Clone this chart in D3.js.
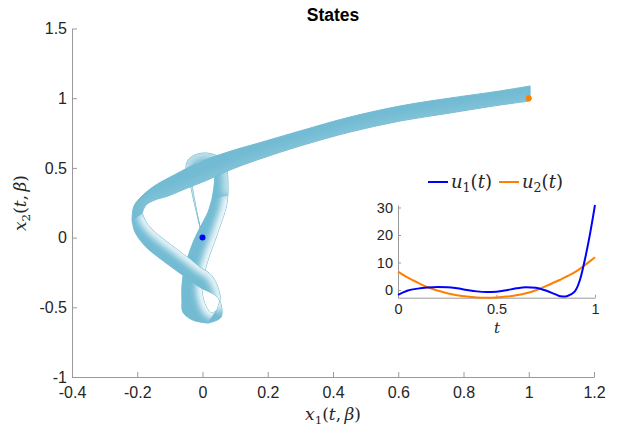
<!DOCTYPE html>
<html><head><meta charset="utf-8">
<script src="https://cdn.jsdelivr.net/npm/d3@7"></script>
<style>body{margin:0;background:#fff} svg{display:block}</style>
</head><body><svg id="c" width="623" height="431"></svg>
<script>
// Ensemble state trajectories: the two extreme members of the beta family
const x1_betaA = [0,-0.011,-0.026,-0.038,-0.051,-0.044,-0.023,0.008,0.038,0.063,0.075,0.078,0.078,0.072,0.057,0.041,0.023,0.008,-0.002,0.002,0.014,0.029,0.044,0.054,0.029,-0.008,-0.047,-0.100,-0.146,-0.173,-0.185,-0.173,-0.146,-0.106,-0.054,0.008,0.084,0.176,0.299,0.452,0.605,0.759,0.912,1.004];
const x2_betaA = [0,0.112,0.255,0.385,0.485,0.557,0.593,0.607,0.593,0.557,0.485,0.399,0.306,0.212,0.105,-0.003,-0.118,-0.232,-0.340,-0.433,-0.507,-0.542,-0.520,-0.426,-0.274,-0.212,-0.140,-0.046,0.040,0.112,0.177,0.234,0.270,0.298,0.349,0.406,0.485,0.564,0.657,0.757,0.836,0.894,0.951,0.980];
const x1_betaB = [0,-0.011,-0.023,-0.032,-0.032,-0.023,-0.008,0.014,0.029,0.038,0.038,0.035,0.029,0.017,-0.005,-0.026,-0.044,-0.057,-0.063,-0.063,-0.060,-0.029,0.017,0.057,0.048,-0.008,-0.069,-0.124,-0.176,-0.207,-0.216,-0.210,-0.182,-0.143,-0.087,-0.008,0.078,0.173,0.299,0.452,0.605,0.759,0.912,1.004];
const x2_betaB = [0,0.112,0.255,0.385,0.478,0.528,0.550,0.557,0.542,0.506,0.442,0.363,0.277,0.184,0.083,-0.017,-0.132,-0.240,-0.347,-0.448,-0.535,-0.592,-0.613,-0.570,-0.433,-0.356,-0.255,-0.161,-0.060,0.040,0.126,0.227,0.306,0.377,0.449,0.542,0.614,0.679,0.765,0.865,0.944,1.001,1.052,1.088];
const initialState = [0, 0];
const targetState = [1, 1];

// Controls (inset)
const tGrid = [0,0.05,0.1,0.15,0.2,0.25,0.3,0.35,0.4,0.45,0.5,0.55,0.6,0.65,0.7,0.75,0.8,0.825,0.85,0.875,0.9,0.925,0.95,0.975,1];
const u1 = [-1.8,-0.2,0.5,0.9,1.1,1.0,0.6,0.0,-0.5,-0.7,-0.6,-0.1,0.6,1.0,0.8,-0.2,-1.6,-2.3,-2.4,-1.7,-0.3,4.0,11.5,20.5,30.9];
const u2 = [6.7,4.5,2.7,1.0,-0.2,-1.2,-1.9,-2.4,-2.7,-2.8,-2.7,-2.4,-1.9,-1.2,-0.1,1.4,3.0,3.8,4.7,5.6,6.6,7.8,9.1,10.5,11.9];

const mainXTicks = [-0.4,-0.2,0,0.2,0.4,0.6,0.8,1,1.2];
const mainYTicks = [-1,-0.5,0,0.5,1,1.5];
const insetXTicks = [0,0.5,1];
const insetYTicks = [0,10,20,30];

const svg = d3.select("#c");
const axisCol = "#9a9a9a", textCol = "#262626";
const sans = "'Liberation Sans', Arial, Helvetica, sans-serif";
const serif = "'DejaVu Serif', 'Liberation Serif', serif";

const x = d3.scaleLinear().domain([-0.4, 1.2]).range([72, 594]);
const y = d3.scaleLinear().domain([-1, 1.5]).range([377, 28.5]);

// ---- ribbon ----
const defs = svg.append("defs");
defs.append("filter").attr("id", "soft").attr("filterUnits", "userSpaceOnUse")
  .attr("x", 0).attr("y", 0).attr("width", 623).attr("height", 431)
  .append("feGaussianBlur").attr("stdDeviation", 3);
const ribbonCol = "#72bbd3";
const smooth = d3.line().curve(d3.curveCatmullRom.alpha(0.5));
const ptA = i => [x(x1_betaA[i]), y(x2_betaA[i])];
const ptB = i => [x(x1_betaB[i]), y(x2_betaB[i])];
// [first index, last index, highlight opacity along the light edge]
const pieces = [[0, 12, 0.55], [12, 22, 0.92], [22, 30, 0.85], [30, 43, 0.1]];
const gRib = svg.append("g");
pieces.forEach(([s, e, op], k) => {
  const A = d3.range(s, e + 1).map(ptA);
  const B = d3.range(s, e + 1).map(ptB).reverse();
  const d = smooth(A) + smooth(B).replace(/^M/, "L") + "Z";
  gRib.append("path").attr("d", d).attr("fill", ribbonCol)
    .attr("stroke", ribbonCol).attr("stroke-width", 1).attr("stroke-linejoin", "round");
  const cid = "clipRib" + k;
  defs.append("clipPath").attr("id", cid).append("path").attr("d", d);
  gRib.append("g").attr("clip-path", `url(#${cid})`)
    .append("path").attr("d", smooth(A)).attr("fill", "none")
    .attr("stroke", "#ffffff").attr("stroke-opacity", op).attr("stroke-width", 11)
    .attr("filter", "url(#soft)");
});

// points
svg.append("circle").attr("cx", x(initialState[0])).attr("cy", y(initialState[1])).attr("r", 3).attr("fill", "#0000ff");
svg.append("circle").attr("cx", x(targetState[0])).attr("cy", y(targetState[1])).attr("r", 3).attr("fill", "#ff8000");

// ---- main axes ----
function styleAxis(g, fs) {
  g.select(".domain").attr("stroke", axisCol);
  g.selectAll(".tick line").attr("stroke", axisCol);
  g.selectAll(".tick text").attr("fill", textCol).attr("font-family", sans).attr("font-size", fs);
}
svg.append("g").attr("transform", "translate(0,377)")
  .call(d3.axisBottom(x).tickValues(mainXTicks).tickFormat(d => String(d)).tickSizeInner(-5).tickSizeOuter(0).tickPadding(10))
  .call(g => styleAxis(g, 16));
svg.append("g").attr("transform", "translate(72,0)")
  .call(d3.axisLeft(y).tickValues(mainYTicks).tickFormat(d => String(d)).tickSizeInner(-5).tickSizeOuter(0).tickPadding(5))
  .call(g => styleAxis(g, 16));

svg.append("text").attr("x", 333).attr("y", 21).attr("text-anchor", "middle")
  .attr("font-family", sans).attr("font-weight", "bold").attr("font-size", 17.5).attr("fill", "#000").text("States");

function mathLabel(parent, parts, size) {
  const txt = parent.append("text").attr("font-family", serif).attr("font-size", size).attr("fill", textCol);
  let shifted = false;
  parts.forEach(p => {
    const ts = txt.append("tspan").text(p.t);
    if (p.i) ts.attr("font-style", "italic");
    if (p.sub) { ts.attr("font-size", size * 0.7).attr("dy", size * 0.22); shifted = true; }
    else if (shifted) { ts.attr("dy", -size * 0.22); shifted = false; }
  });
  return txt;
}
const lab = (v) => [{t:"x",i:true},{t:v,sub:true},{t:"("},{t:"t",i:true},{t:",\u2009"},{t:"β",i:true},{t:")"}];
mathLabel(svg.append("g").attr("transform", "translate(333,420)"), lab("1"), 17).attr("text-anchor", "middle");
mathLabel(svg.append("g").attr("transform", "translate(26,203) rotate(-90)"), lab("2"), 17).attr("text-anchor", "middle");

// ---- inset ----
const allU = u1.concat(u2);
const xi = d3.scaleLinear().domain([0, 1]).range([398, 595]);
const yi = d3.scaleLinear().domain([d3.min(allU), d3.max(allU)]).range([297.7, 205]);
const gi = svg.append("g");
gi.append("g").attr("transform", "translate(0,297.7)")
  .call(d3.axisBottom(xi).tickValues(insetXTicks).tickFormat(d => String(d)).tickSizeInner(-3).tickSizeOuter(0).tickPadding(6))
  .call(g => styleAxis(g, 14.5));
gi.append("g").attr("transform", "translate(398,0)")
  .call(d3.axisLeft(yi).tickValues(insetYTicks).tickFormat(d => String(d)).tickSizeInner(-3).tickSizeOuter(0).tickPadding(5))
  .call(g => styleAxis(g, 14.5));
const lineU = (arr) => d3.line().x((d, i) => xi(tGrid[i])).y(d => yi(d)).curve(d3.curveMonotoneX)(arr);
gi.append("path").attr("d", lineU(u2)).attr("fill", "none").attr("stroke", "#ff8000").attr("stroke-width", 2);
gi.append("path").attr("d", lineU(u1)).attr("fill", "none").attr("stroke", "#0000ff").attr("stroke-width", 2);
mathLabel(gi.append("g").attr("transform", "translate(497,333)"), [{t:"t",i:true}], 15).attr("text-anchor", "middle");

// legend
const legend = [{name:"1", col:"#0000ff", x:428}, {name:"2", col:"#ff8000", x:499}];
legend.forEach(l => {
  gi.append("line").attr("x1", l.x).attr("x2", l.x + 20).attr("y1", 182).attr("y2", 182).attr("stroke", l.col).attr("stroke-width", 2);
  mathLabel(gi.append("g").attr("transform", `translate(${l.x + 23},188)`),
    [{t:"u",i:true},{t:l.name,sub:true},{t:"("},{t:"t",i:true},{t:")"}], 18);
});
</script></body></html>
